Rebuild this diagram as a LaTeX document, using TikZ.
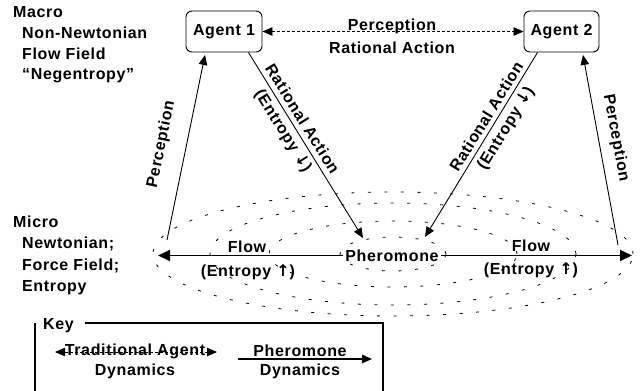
\documentclass[tikz,border=0pt]{standalone}
\usepackage{fontspec}
\setmainfont{Liberation Sans}[LetterSpace=4]
\newfontfamily\arrf{DejaVu Sans}
\usetikzlibrary{arrows.meta}
\newcommand{\dnarr}{{\arrf\bfseries ↓}}
\newcommand{\uparr}{{\arrf\bfseries ↑}}
\tikzset{
  lbl/.style={font=\bfseries\fontsize{16}{22}\selectfont, inner sep=0pt},
  side/.style={font=\bfseries\fontsize{16}{20.8}\selectfont, inner sep=0pt, anchor=base west},
  agent/.style={lbl, draw, line width=0.9pt, rounded corners=6pt, minimum height=41pt},
  ell/.style={line width=0.8pt, dash pattern=on 3pt off 13.5pt},
  tri/.style={-{Triangle[length=10pt,width=8.5pt]}},
  bitri/.style={{Triangle[length=10pt,width=8.5pt]}-{Triangle[length=10pt,width=8.5pt]}},
  flow/.style={line width=1.8pt, -{Triangle[length=12pt,width=11pt]}},
  thin/.style={line width=0.9pt},
  dsh/.style={line width=0.8pt, dash pattern=on 3pt off 2pt},
  keyline/.style={line width=1.3pt}
}
\begin{document}
\begin{tikzpicture}[x=1pt,y=-1pt]
\useasboundingbox (0,0) rectangle (641,391);
% ellipses
\draw[ell] (393,254) ellipse [x radius=53pt, y radius=17pt];
\draw[ell] (393,254) ellipse [x radius=124pt, y radius=33pt];
\draw[ell] (393,254) ellipse [x radius=183pt, y radius=51pt];
\draw[ell] (393,254) ellipse [x radius=240pt, y radius=62pt];
% agents
\node[agent, minimum width=76pt] (a1) at (224,31.5) {Agent 1};
\node[agent, minimum width=75pt] (a2) at (561.5,31.5) {Agent 2};
% pheromone
\node[lbl, inner xsep=2.5pt, text height=11pt, text depth=0pt] (ph) at (392,255.5) {Pheromone};
% coordinates
\coordinate (fl) at (158,255.5);
\coordinate (fr) at (632,255.5);
\coordinate (p1b) at (167,240);
\coordinate (p2b) at (618,245);
\coordinate (r1e) at (363,238);
\coordinate (r2e) at (425,237);
% top dashed arrow
\draw[dsh, bitri] (a1.east) -- (a2.west);
\node[lbl, anchor=base] (tp) at (392,30.7) {Perception};
\node[lbl, anchor=base] (tr) at (392,53.3) {Rational Action};
% perception arrows
\draw[thin, tri] (p1b) -- ([xshift=-19pt,yshift=-2.5pt]a1.south);
\draw[thin, tri] (p2b) -- ([xshift=21.5pt,yshift=-2.5pt]a2.south);
\node[lbl, rotate=78.5] (pl1) at (161.5,144) {Perception};
\node[lbl, rotate=-79.6] (pl2) at (616,138) {Perception};
% rational action arrows
\draw[thin, tri] ([xshift=-14pt]a1.south east) -- (r1e);
\draw[thin, tri] ([xshift=14pt]a2.south west) -- (r2e);
\node[lbl, rotate=-58.1, align=center] (ra1) at (292,125.5) {Rational Action\\(Entropy \dnarr)};
\node[lbl, rotate=58.4, align=center] (ra2) at (497,123) {Rational Action\\(Entropy \dnarr)};
% flow arrows
\draw[flow] (ph.west) -- (fl);
\draw[flow] (ph.east) -- (fr);
\node[lbl, anchor=base] (f1) at (247,252.7) {Flow};
\node[lbl, anchor=base] (e1) at (248,276.5) {(Entropy \uparr)};
\node[lbl, anchor=base] (f2) at (531,251.7) {Flow};
\node[lbl, anchor=base] (e2) at (531,274.5) {(Entropy \uparr)};
% side labels
\node[side] (m0) at (13,17) {Macro};
\node[side] (m1) at (22,38) {Non-Newtonian};
\node[side] (m2) at (22,59) {Flow Field};
\node[side] (m3) at (22,79.5) {“Negentropy”};
\node[side] (n0) at (13,227) {Micro};
\node[side] (n1) at (22,248.5) {Newtonian;};
\node[side] (n2) at (22,270) {Force Field;};
\node[side] (n3) at (22,291) {Entropy};
% key
\node[side] (key) at (43,329) {Key};
\coordinate (k1) at (85,323);
\coordinate (k2) at (383,323);
\coordinate (k3) at (383,392);
\coordinate (k4) at (35,323);
\coordinate (k5) at (35,392);
\draw[keyline] (k1) -- (k2) -- (k3);
\draw[keyline] (k4) -- (k5);
\coordinate (ka) at (55,352);
\coordinate (kb) at (217,352);
\draw[dsh, bitri] (ka) -- (kb);
\node[lbl, anchor=base] (kt1) at (135,355.5) {Traditional Agent};
\node[lbl, anchor=base] (kt2) at (135,375) {Dynamics};
\coordinate (kc) at (238,359);
\coordinate (kd) at (372,359);
\draw[keyline, tri] (kc) -- (kd);
\node[lbl, anchor=base] (kp1) at (300,356.5) {Pheromone};
\node[lbl, anchor=base] (kp2) at (300,375) {Dynamics};
\end{tikzpicture}
\end{document}
